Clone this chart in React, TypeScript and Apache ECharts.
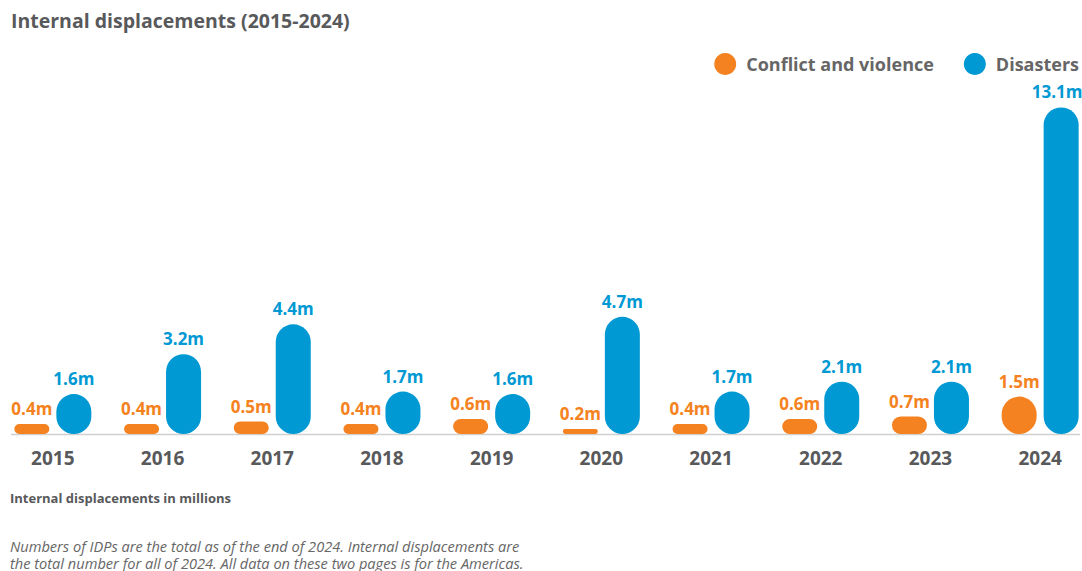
import React, { useEffect, useRef } from "react";
import * as echarts from "echarts";

const years = ["2015", "2016", "2017", "2018", "2019", "2020", "2021", "2022", "2023", "2024"];
const conflict = [0.4, 0.4, 0.5, 0.4, 0.6, 0.2, 0.4, 0.6, 0.7, 1.5];
const disasters = [1.6, 3.2, 4.4, 1.7, 1.6, 4.7, 1.7, 2.1, 2.1, 13.1];
const footnoteLines = [
  "Numbers of IDPs are the total as of the end of 2024. Internal displacements are",
  "the total number for all of 2024. All data on these two pages is for the Americas.",
];

const ORANGE = "#f58220";
const BLUE = "#0099d3";
const GRAY = "#58595b";
const FONT = "'Open Sans', Lato, sans-serif";

export default function App() {
  const ref = useRef<HTMLDivElement>(null);
  useEffect(() => {
    if (!ref.current) return;
    const chart = echarts.init(ref.current, undefined, { renderer: "svg" });
    const label = (color: string) => ({
      show: true,
      position: "top",
      distance: 7,
      color,
      fontFamily: FONT,
      fontWeight: "bold",
      fontSize: 17,
      formatter: (p: any) => p.value + "m",
    });
    const last = disasters.length - 1;
    chart.setOption({
      animation: false,
      textStyle: { fontFamily: FONT },
      title: [
        {
          text: "Internal displacements (2015-2024)",
          left: 6,
          top: 5,
          textStyle: { fontFamily: FONT, fontSize: 19.5, fontWeight: "bold", color: GRAY },
        },
      ],
      legend: {
        right: -2,
        top: 48,
        icon: "circle",
        itemWidth: 22,
        itemHeight: 22,
        itemGap: 30,
        textStyle: {
          fontFamily: FONT,
          fontSize: 18,
          fontWeight: "bold",
          color: "#666",
          padding: [0, 0, 0, 5],
        },
        data: ["Conflict and violence", "Disasters"],
      },
      grid: { left: -2, width: 1097, top: 85, bottom: 137, outerBoundsMode: "none" },
      xAxis: {
        type: "category",
        data: years,
        axisLine: { show: false },
        axisTick: { show: false },
        axisLabel: {
          margin: 14,
          fontFamily: FONT,
          fontSize: 19,
          fontWeight: "bold",
          color: GRAY,
        },
      },
      yAxis: { type: "value", min: 0, max: 14, show: false, splitLine: { show: false } },
      graphic: [
        {
          type: "line",
          shape: { x1: 11, y1: 434.5, x2: 1080, y2: 434.5 },
          style: { stroke: "#d0d0d0", lineWidth: 1.5 },
          z: 0,
        },
        {
          type: "text",
          left: 10,
          top: 491,
          style: {
            text: "Internal displacements in millions",
            font: `bold 13px ${FONT}`,
            fill: GRAY,
          },
        },
        ...footnoteLines.map((t, i) => ({
          type: "text",
          left: 10,
          top: 538 + i * 17,
          style: {
            text: t,
            font: `italic 14.6px ${FONT}`,
            fill: "#666",
          },
        })),
      ],
      series: [
        {
          name: "Conflict and violence",
          type: "bar",
          data: conflict,
          barWidth: 35,
          barGap: "20%",
          itemStyle: { color: ORANGE, borderRadius: 18 },
          label: label(ORANGE),
          z: 3,
        },
        {
          name: "Disasters",
          type: "bar",
          data: disasters.map((v, i) =>
            i === last ? { value: v, label: { offset: [-4, 0] } } : v
          ),
          barWidth: 35,
          itemStyle: { color: BLUE, borderRadius: 18 },
          label: label(BLUE),
          z: 3,
        },
      ],
    });
    return () => chart.dispose();
  }, []);
  return (
    <div
      ref={ref}
      style={{ position: "absolute", left: 0, top: 0, width: 1082, height: 571, background: "#fff" }}
    />
  );
}
